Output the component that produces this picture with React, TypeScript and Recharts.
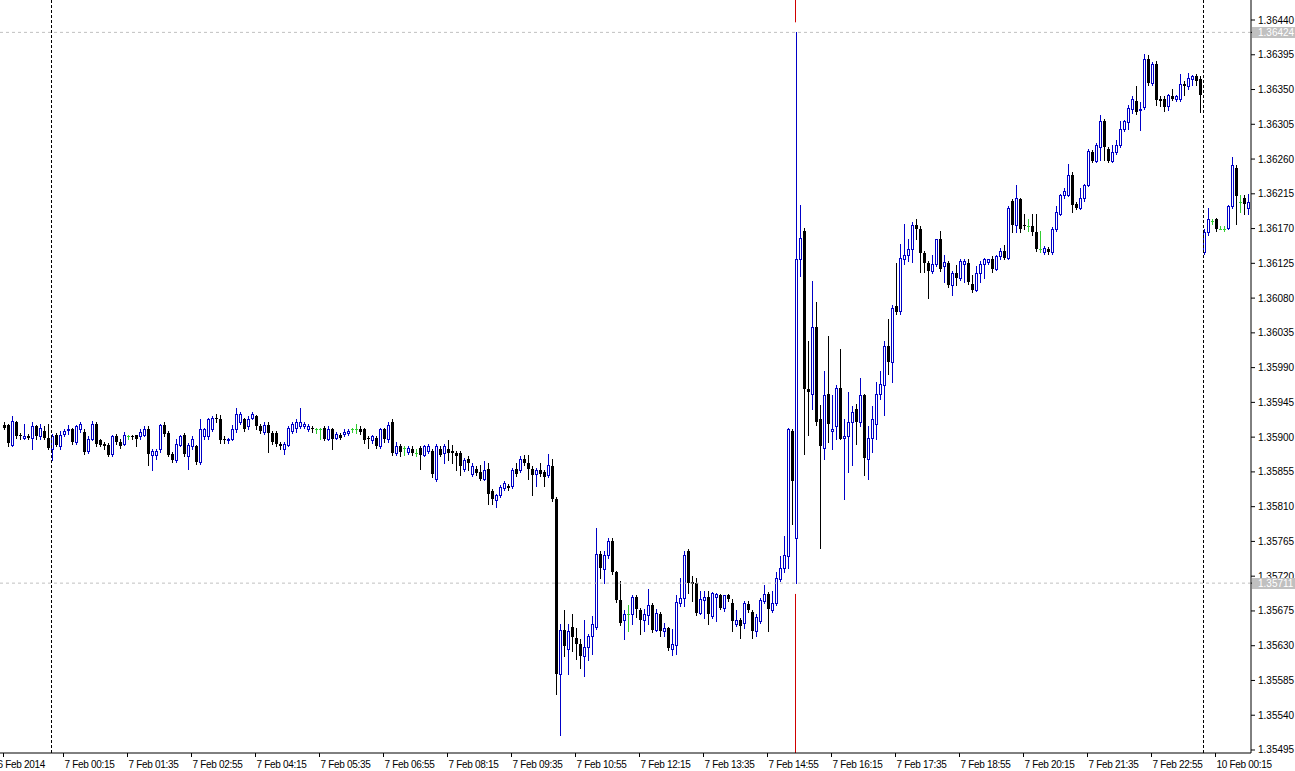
import { ComposedChart, Bar, XAxis, YAxis, ReferenceLine } from 'recharts';

// EURUSD-style M5 candles, 6 Feb 23:00 -> 10 Feb 00:55
const opens = [
  1.35916,1.35916,1.35890,1.35919,1.35903,1.35899,1.35902,1.35899,1.35914,1.35901,
  1.35908,1.35899,1.35884,1.35903,1.35888,1.35904,1.35910,1.35910,1.35894,1.35910,
  1.35907,1.35882,1.35898,1.35917,1.35896,1.35891,1.35890,1.35878,1.35901,1.35894,
  1.35891,1.35901,1.35901,1.35903,1.35901,1.35903,1.35911,1.35877,1.35877,1.35884,
  1.35916,1.35906,1.35878,1.35871,1.35890,1.35903,1.35875,1.35888,1.35888,1.35868,
  1.35901,1.35901,1.35911,1.35925,1.35923,1.35898,1.35896,1.35898,1.35910,1.35920,
  1.35923,1.35914,1.35925,1.35927,1.35915,1.35907,1.35916,1.35906,1.35906,1.35891,
  1.35884,1.35890,1.35908,1.35912,1.35915,1.35915,1.35911,1.35912,1.35910,1.35911,
  1.35912,1.35898,1.35910,1.35899,1.35903,1.35904,1.35906,1.35910,1.35911,1.35911,
  1.35910,1.35899,1.35896,1.35899,1.35889,1.35910,1.35897,1.35919,1.35880,1.35889,
  1.35886,1.35881,1.35885,1.35880,1.35886,1.35877,1.35882,1.35882,1.35846,1.35885,
  1.35880,1.35885,1.35882,1.35880,1.35880,1.35859,1.35872,1.35852,1.35859,1.35855,
  1.35846,1.35859,1.35830,1.35818,1.35825,1.35834,1.35837,1.35837,1.35859,1.35858,
  1.35872,1.35867,1.35859,1.35852,1.35858,1.35855,1.35851,1.35862,1.35820,1.35594,
  1.35650,1.35626,1.35654,1.35640,1.35632,1.35617,1.35628,1.35643,1.35654,1.35749,
  1.35729,1.35747,1.35765,1.35726,1.35689,1.35663,1.35671,1.35671,1.35693,1.35676,
  1.35663,1.35670,1.35683,1.35650,1.35671,1.35649,1.35653,1.35626,1.35631,1.35685,
  1.35692,1.35752,1.35713,1.35711,1.35672,1.35689,1.35693,1.35669,1.35693,1.35696,
  1.35679,1.35695,1.35685,1.35658,1.35663,1.35659,1.35684,1.35674,1.35649,1.35662,
  1.35688,1.35697,1.35676,1.35685,1.35716,1.35730,1.35746,1.35908,1.35769,1.36130,
  1.36167,1.35962,1.35956,1.36042,1.35923,1.35886,1.35956,1.35908,1.35914,1.35963,
  1.35899,1.35901,1.35919,1.35937,1.35920,1.35954,1.35872,1.35899,1.35917,1.35956,
  1.35968,1.36018,1.35997,1.36070,1.36063,1.36131,1.36136,1.36143,1.36174,1.36170,
  1.36139,1.36126,1.36115,1.36124,1.36156,1.36121,1.36126,1.36097,1.36113,1.36106,
  1.36124,1.36126,1.36098,1.36091,1.36113,1.36124,1.36127,1.36131,1.36118,1.36134,
  1.36141,1.36132,1.36206,1.36175,1.36208,1.36174,1.36173,1.36173,1.36166,1.36143,
  1.36140,1.36144,1.36140,1.36170,1.36189,1.36213,1.36214,1.36240,1.36202,1.36197,
  1.36209,1.36227,1.36269,1.36257,1.36276,1.36309,1.36273,1.36257,1.36269,1.36278,
  1.36299,1.36308,1.36325,1.36335,1.36324,1.36328,1.36389,1.36359,1.36383,1.36338,
  1.36338,1.36329,1.36341,1.36338,1.36338,1.36357,1.36354,1.36364,1.36367,1.36363,
  1.36140,1.36165,1.36180,1.36182,1.36170,1.36170,1.36171,1.36199,1.36249,1.36205,
  1.36209,1.36197,
];

const highs = [
  1.35919,1.35917,1.35927,1.35921,1.35906,1.35917,1.35904,1.35920,1.35916,1.35917,
  1.35915,1.35917,1.35904,1.35906,1.35908,1.35911,1.35916,1.35912,1.35916,1.35920,
  1.35910,1.35901,1.35921,1.35920,1.35898,1.35894,1.35893,1.35903,1.35904,1.35897,
  1.35907,1.35903,1.35903,1.35903,1.35910,1.35914,1.35914,1.35885,1.35884,1.35917,
  1.35919,1.35908,1.35881,1.35898,1.35903,1.35906,1.35893,1.35901,1.35890,1.35923,
  1.35912,1.35925,1.35928,1.35930,1.35929,1.35901,1.35899,1.35916,1.35938,1.35933,
  1.35925,1.35927,1.35933,1.35929,1.35917,1.35919,1.35920,1.35908,1.35908,1.35894,
  1.35894,1.35915,1.35920,1.35923,1.35938,1.35920,1.35917,1.35915,1.35912,1.35912,
  1.35915,1.35914,1.35912,1.35907,1.35906,1.35910,1.35911,1.35912,1.35917,1.35914,
  1.35912,1.35902,1.35903,1.35902,1.35912,1.35912,1.35919,1.35924,1.35894,1.35891,
  1.35889,1.35889,1.35888,1.35884,1.35889,1.35890,1.35891,1.35884,1.35891,1.35888,
  1.35891,1.35896,1.35890,1.35882,1.35882,1.35873,1.35875,1.35867,1.35862,1.35864,
  1.35869,1.35867,1.35833,1.35827,1.35838,1.35843,1.35839,1.35860,1.35867,1.35875,
  1.35877,1.35877,1.35862,1.35860,1.35867,1.35858,1.35878,1.35872,1.35822,1.35658,
  1.35676,1.35658,1.35671,1.35653,1.35639,1.35663,1.35645,1.35669,1.35782,1.35752,
  1.35752,1.35769,1.35769,1.35727,1.35714,1.35676,1.35683,1.35696,1.35695,1.35679,
  1.35678,1.35704,1.35685,1.35678,1.35674,1.35659,1.35654,1.35652,1.35695,1.35717,
  1.35752,1.35755,1.35720,1.35717,1.35701,1.35701,1.35701,1.35700,1.35698,1.35697,
  1.35696,1.35697,1.35691,1.35676,1.35666,1.35688,1.35688,1.35676,1.35671,1.35692,
  1.35709,1.35700,1.35701,1.35726,1.35746,1.35772,1.35912,1.35911,1.36424,1.36201,
  1.36171,1.36024,1.36102,1.36075,1.35942,1.35986,1.36031,1.35954,1.35968,1.36014,
  1.35924,1.35959,1.35940,1.35943,1.35976,1.35956,1.35914,1.35940,1.35971,1.35985,
  1.36025,1.36053,1.36071,1.36126,1.36150,1.36176,1.36156,1.36179,1.36183,1.36173,
  1.36141,1.36128,1.36136,1.36157,1.36167,1.36136,1.36128,1.36115,1.36123,1.36131,
  1.36130,1.36130,1.36110,1.36121,1.36128,1.36132,1.36131,1.36134,1.36136,1.36145,
  1.36149,1.36199,1.36208,1.36227,1.36210,1.36189,1.36183,1.36189,1.36189,1.36167,
  1.36148,1.36146,1.36172,1.36199,1.36215,1.36222,1.36253,1.36243,1.36205,1.36222,
  1.36228,1.36273,1.36272,1.36281,1.36317,1.36312,1.36276,1.36278,1.36285,1.36309,
  1.36311,1.36330,1.36341,1.36355,1.36334,1.36396,1.36395,1.36386,1.36387,1.36341,
  1.36341,1.36344,1.36351,1.36343,1.36370,1.36361,1.36372,1.36369,1.36370,1.36367,
  1.36169,1.36197,1.36183,1.36184,1.36173,1.36173,1.36201,1.36263,1.36252,1.36214,
  1.36214,1.36215,
];

const lows = [
  1.35910,1.35889,1.35888,1.35899,1.35898,1.35897,1.35897,1.35884,1.35898,1.35898,
  1.35898,1.35885,1.35871,1.35888,1.35885,1.35902,1.35904,1.35891,1.35891,1.35907,
  1.35878,1.35880,1.35896,1.35889,1.35888,1.35885,1.35875,1.35876,1.35891,1.35886,
  1.35890,1.35898,1.35897,1.35888,1.35898,1.35901,1.35864,1.35858,1.35872,1.35881,
  1.35902,1.35875,1.35868,1.35868,1.35888,1.35876,1.35859,1.35885,1.35865,1.35865,
  1.35898,1.35898,1.35908,1.35920,1.35893,1.35893,1.35893,1.35896,1.35907,1.35917,
  1.35908,1.35911,1.35923,1.35911,1.35906,1.35904,1.35881,1.35891,1.35889,1.35885,
  1.35878,1.35888,1.35906,1.35907,1.35912,1.35912,1.35908,1.35907,1.35906,1.35897,
  1.35896,1.35896,1.35884,1.35897,1.35897,1.35902,1.35903,1.35907,1.35906,1.35904,
  1.35893,1.35886,1.35893,1.35886,1.35886,1.35894,1.35894,1.35877,1.35877,1.35875,
  1.35877,1.35878,1.35877,1.35875,1.35859,1.35875,1.35880,1.35849,1.35843,1.35875,
  1.35867,1.35871,1.35867,1.35858,1.35851,1.35856,1.35858,1.35850,1.35851,1.35845,
  1.35844,1.35814,1.35814,1.35809,1.35822,1.35831,1.35831,1.35834,1.35850,1.35855,
  1.35864,1.35846,1.35825,1.35837,1.35850,1.35837,1.35849,1.35817,1.35567,1.35514,
  1.35617,1.35594,1.35623,1.35613,1.35601,1.35591,1.35611,1.35619,1.35652,1.35717,
  1.35711,1.35744,1.35723,1.35687,1.35657,1.35639,1.35649,1.35658,1.35667,1.35645,
  1.35649,1.35658,1.35648,1.35649,1.35643,1.35643,1.35624,1.35618,1.35619,1.35682,
  1.35682,1.35698,1.35688,1.35670,1.35671,1.35666,1.35658,1.35666,1.35662,1.35678,
  1.35675,1.35688,1.35649,1.35656,1.35640,1.35653,1.35674,1.35640,1.35643,1.35659,
  1.35685,1.35649,1.35674,1.35683,1.35714,1.35726,1.35730,1.35788,1.35711,1.36108,
  1.35878,1.35903,1.35937,1.35916,1.35756,1.35872,1.35894,1.35885,1.35897,1.35897,
  1.35820,1.35855,1.35864,1.35891,1.35914,1.35851,1.35846,1.35881,1.35898,1.35949,
  1.35929,1.35982,1.35972,1.36059,1.36060,1.36124,1.36128,1.36127,1.36156,1.36114,
  1.36114,1.36080,1.36113,1.36122,1.36115,1.36101,1.36095,1.36084,1.36097,1.36104,
  1.36101,1.36098,1.36088,1.36089,1.36101,1.36106,1.36124,1.36114,1.36117,1.36131,
  1.36130,1.36130,1.36166,1.36166,1.36166,1.36170,1.36167,1.36162,1.36141,1.36140,
  1.36137,1.36137,1.36137,1.36167,1.36187,1.36210,1.36212,1.36192,1.36195,1.36195,
  1.36206,1.36225,1.36256,1.36256,1.36259,1.36259,1.36256,1.36256,1.36266,1.36276,
  1.36296,1.36299,1.36320,1.36318,1.36298,1.36325,1.36356,1.36356,1.36330,1.36329,
  1.36322,1.36324,1.36337,1.36335,1.36335,1.36343,1.36351,1.36356,1.36356,1.36321,
  1.36137,1.36162,1.36176,1.36167,1.36169,1.36167,1.36169,1.36196,1.36176,1.36192,
  1.36189,1.36189,
];

const closes = [
  1.35912,1.35892,1.35921,1.35902,1.35901,1.35902,1.35899,1.35914,1.35901,1.35912,
  1.35899,1.35886,1.35902,1.35890,1.35903,1.35908,1.35911,1.35894,1.35914,1.35917,
  1.35881,1.35898,1.35917,1.35891,1.35890,1.35888,1.35877,1.35901,1.35894,1.35889,
  1.35903,1.35901,1.35900,1.35898,1.35907,1.35910,1.35878,1.35882,1.35882,1.35916,
  1.35904,1.35877,1.35871,1.35891,1.35901,1.35878,1.35890,1.35898,1.35868,1.35911,
  1.35910,1.35923,1.35925,1.35923,1.35896,1.35896,1.35897,1.35910,1.35930,1.35930,
  1.35911,1.35924,1.35930,1.35914,1.35908,1.35916,1.35906,1.35894,1.35891,1.35888,
  1.35891,1.35912,1.35917,1.35920,1.35920,1.35917,1.35915,1.35910,1.35910,1.35911,
  1.35898,1.35911,1.35898,1.35904,1.35899,1.35907,1.35908,1.35910,1.35911,1.35907,
  1.35896,1.35897,1.35901,1.35889,1.35910,1.35897,1.35916,1.35880,1.35889,1.35881,
  1.35886,1.35886,1.35880,1.35880,1.35877,1.35888,1.35889,1.35852,1.35889,1.35877,
  1.35889,1.35880,1.35880,1.35876,1.35862,1.35871,1.35867,1.35862,1.35854,1.35846,
  1.35858,1.35827,1.35820,1.35825,1.35835,1.35840,1.35834,1.35858,1.35852,1.35872,
  1.35867,1.35859,1.35851,1.35858,1.35852,1.35849,1.35864,1.35820,1.35593,1.35650,
  1.35630,1.35649,1.35641,1.35632,1.35617,1.35628,1.35643,1.35658,1.35749,1.35730,
  1.35748,1.35766,1.35726,1.35689,1.35659,1.35671,1.35671,1.35693,1.35678,1.35663,
  1.35671,1.35683,1.35650,1.35672,1.35649,1.35653,1.35627,1.35632,1.35687,1.35692,
  1.35748,1.35711,1.35710,1.35672,1.35691,1.35693,1.35671,1.35698,1.35697,1.35679,
  1.35695,1.35691,1.35662,1.35663,1.35656,1.35685,1.35676,1.35649,1.35667,1.35689,
  1.35697,1.35678,1.35685,1.35717,1.35730,1.35748,1.35910,1.35843,1.36130,1.36158,
  1.35962,1.35959,1.36042,1.35919,1.35888,1.35954,1.35917,1.35911,1.35963,1.35898,
  1.35902,1.35920,1.35932,1.35919,1.35955,1.35873,1.35899,1.35923,1.35956,1.35969,
  1.36018,1.35997,1.36067,1.36062,1.36132,1.36136,1.36144,1.36175,1.36170,1.36139,
  1.36126,1.36115,1.36124,1.36156,1.36118,1.36127,1.36097,1.36113,1.36106,1.36128,
  1.36128,1.36101,1.36091,1.36113,1.36124,1.36130,1.36130,1.36118,1.36134,1.36141,
  1.36132,1.36197,1.36175,1.36209,1.36170,1.36173,1.36173,1.36165,1.36144,1.36143,
  1.36145,1.36140,1.36170,1.36191,1.36214,1.36218,1.36240,1.36201,1.36197,1.36209,
  1.36227,1.36270,1.36257,1.36278,1.36309,1.36276,1.36257,1.36269,1.36278,1.36299,
  1.36309,1.36326,1.36338,1.36321,1.36325,1.36390,1.36359,1.36383,1.36337,1.36335,
  1.36328,1.36343,1.36338,1.36341,1.36357,1.36355,1.36365,1.36368,1.36361,1.36343,
  1.36165,1.36182,1.36180,1.36170,1.36170,1.36170,1.36199,1.36252,1.36212,1.36205,
  1.36202,1.36205,
];

// time axis: bar index -> label
const timeTickIdx = [0, 15, 31, 47, 63, 79, 95, 111, 127, 143, 159, 175, 191, 207, 223, 239, 255, 271, 287, 303];
const timeTickLabels = [
  '6 Feb 2014', '7 Feb 00:15', '7 Feb 01:35', '7 Feb 02:55', '7 Feb 04:15', '7 Feb 05:35',
  '7 Feb 06:55', '7 Feb 08:15', '7 Feb 09:35', '7 Feb 10:55', '7 Feb 12:15', '7 Feb 13:35',
  '7 Feb 14:55', '7 Feb 16:15', '7 Feb 17:35', '7 Feb 18:55', '7 Feb 20:15', '7 Feb 21:35',
  '7 Feb 22:55', '10 Feb 00:15',
];

const priceTicks = [
  1.3644, 1.36395, 1.3635, 1.36305, 1.3626, 1.36215, 1.3617, 1.36125, 1.3608, 1.36035, 1.3599,
  1.35945, 1.359, 1.35855, 1.3581, 1.35765, 1.3572, 1.35675, 1.3563, 1.35585, 1.3554, 1.35495,
];
// horizontal lines at the spike bar's high and low
const markedPrices = [1.36424, 1.35711];
const spikeBar = 198;
const daySeparators = [12, 300];
const priceDomain = [1.354911, 1.364659];

const BULL = '#0000c8';
const BEAR = '#000000';
const DOJI = '#32cd32';
const MARKER = '#d00000';
const FONT = "'Liberation Sans', Arial, sans-serif";

const data = closes.map((close, i) => ({
  idx: i,
  open: opens[i],
  high: highs[i],
  low: lows[i],
  close,
  range: [lows[i], highs[i]],
}));

const Candle = (props: any) => {
  const { x, y, width, height, payload } = props;
  const { open, high, low, close } = payload;
  const top = Math.min(y, y + height);
  const h = Math.abs(height);
  const yOf = (p: number) => (high === low ? top : top + ((high - p) / (high - low)) * h);
  const col = Math.floor(x + width / 2 + 0.25);
  const cx = col + 0.5;
  const yH = Math.round(yOf(high));
  const yL = Math.round(yOf(low));
  const yO = Math.round(yOf(open));
  const yC = Math.round(yOf(close));

  if (open === close) {
    return (
      <g shapeRendering="crispEdges">
        <line x1={cx} x2={cx} y1={yH} y2={yL + 1} stroke={DOJI} />
        <line x1={col - 1} x2={col + 2} y1={yO + 0.5} y2={yO + 0.5} stroke={DOJI} />
      </g>
    );
  }
  if (close > open) {
    return (
      <g shapeRendering="crispEdges">
        <line x1={cx} x2={cx} y1={yH} y2={yL + 1} stroke={BULL} />
        <rect x={col - 0.5} y={yC + 0.5} width={2} height={Math.max(yO - yC, 1)} fill="#fff" stroke={BULL} />
      </g>
    );
  }
  return (
    <g shapeRendering="crispEdges">
      <line x1={cx} x2={cx} y1={yH} y2={yL + 1} stroke={BEAR} />
      <rect x={col - 1} y={yO} width={3} height={Math.max(yC - yO, 1)} fill={BEAR} />
    </g>
  );
};

const TimeTick = (props: any) => {
  const { x, y, payload } = props;
  const i = timeTickIdx.indexOf(payload.value);
  if (i < 0) return null;
  const shift = i === 0 ? -6 : 1;
  return (
    <text
      x={x + shift}
      y={y + 9}
      fill="#000"
      fontSize={10}
      fontFamily={FONT}
      letterSpacing={-0.3}
      textAnchor="start"
    >
      {timeTickLabels[i]}
    </text>
  );
};

const PriceTick = (props: any) => {
  const { x, y, payload } = props;
  const label = Number(payload.value).toFixed(5);
  if (markedPrices.includes(payload.value)) {
    return (
      <g>
        <rect x={x - 6} y={Math.round(y) - 5} width={43} height={11} fill="#c0c0c0" />
        <text x={x} y={y} dy="0.35em" fill="#fff" fontSize={10} fontFamily={FONT} textAnchor="start">
          {label}
        </text>
      </g>
    );
  }
  return (
    <text x={x} y={y} dy="0.35em" fill="#000" fontSize={10} fontFamily={FONT} textAnchor="start">
      {label}
    </text>
  );
};

export default function App() {
  return (
    <div style={{ position: 'absolute', left: 0, top: 0, width: 1295, height: 771, background: '#fff' }}>
      <ComposedChart width={1295} height={771} data={data} margin={{ top: 0, right: 0, bottom: 0, left: 0 }}>
        <XAxis
          dataKey="idx"
          type="category"
          padding={{ left: 1.5, right: 1.5 }}
          ticks={timeTickIdx}
          interval={0}
          height={18}
          tickSize={4}
          stroke="#000"
          tick={(p: any) => <TimeTick {...p} />}
        />
        <YAxis
          orientation="right"
          type="number"
          domain={priceDomain}
          allowDataOverflow
          ticks={[...priceTicks, ...markedPrices]}
          interval={0}
          width={44}
          tickSize={4}
          tickMargin={3}
          stroke="#000"
          tick={(p: any) => <PriceTick {...p} />}
        />
        {markedPrices.map((p) => (
          <ReferenceLine key={p} y={p} stroke="#c0c0c0" strokeDasharray="3 3" ifOverflow="visible" />
        ))}
        {daySeparators.map((d) => (
          <ReferenceLine key={d} x={d} stroke="#000" strokeDasharray="3 2" ifOverflow="visible" />
        ))}
        <ReferenceLine
          segment={[{ x: spikeBar, y: priceDomain[1] }, { x: spikeBar, y: 1.36437 }]}
          stroke={MARKER}
          ifOverflow="visible"
        />
        <ReferenceLine
          segment={[{ x: spikeBar, y: 1.35697 }, { x: spikeBar, y: priceDomain[0] }]}
          stroke={MARKER}
          ifOverflow="visible"
        />
        <Bar
          dataKey="range"
          barSize={3}
          isAnimationActive={false}
          shape={(p: any) => <Candle {...p} />}
        />
      </ComposedChart>
    </div>
  );
}
